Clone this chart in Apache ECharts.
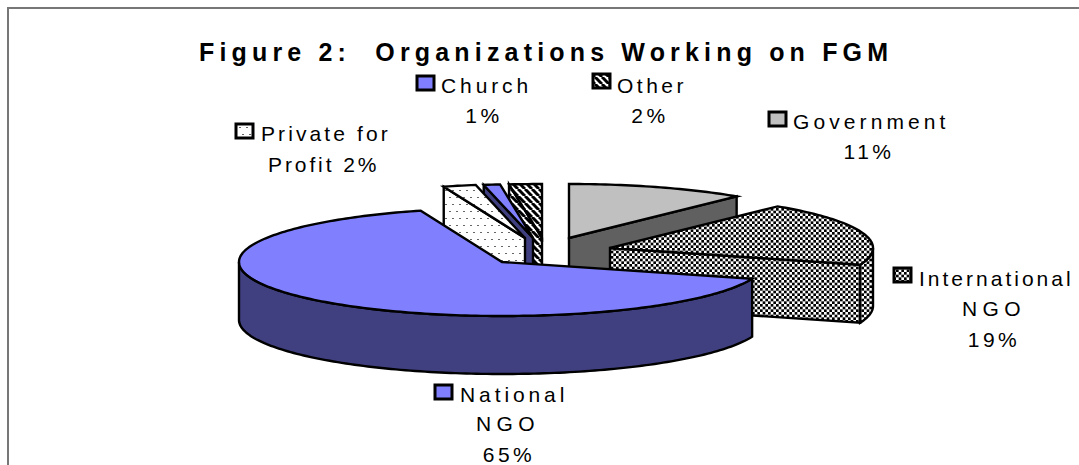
<!DOCTYPE html>
<html>
<head>
<meta charset="utf-8">
<style>
html,body{margin:0;padding:0;background:#fff;}
#c{width:1079px;height:465px;}
#c text{letter-spacing:3.5px;}
</style>
<script src="https://cdn.jsdelivr.net/npm/echarts@6/dist/echarts.min.js"></script>
</head>
<body>
<div id="c"></div>
<script>
// ---- data ----
var titleText = 'Figure 2:  Organizations Working on FGM';
var categories = ['Government', 'International NGO', 'National NGO', 'Private for Profit', 'Church', 'Other'];
var values = [11, 19, 65, 2, 1, 2];
var labelLines = [
  ['Government', '11%'],
  ['International', 'NGO', '19%'],
  ['National', 'NGO', '65%'],
  ['Private for', 'Profit 2%'],
  ['Church', '1%'],
  ['Other', '2%']
];

// ---- layout and styling (pixels), separate from values ----
var RX = 263, RY = 54, DEPTH = 58;
var apex = [[569,238],[610,248],[502,262],[525,238],[533,238],[542,238]];
var drawOrder = [5,4,3,0,1,2];
var keyBox = [[769,112],[894,268],[435,385],[236,124],[417,76],[593,74]];
var KEY_W = 17, KEY_H = 14;
var labelAnchor = [
  [[793,121,'left'],[869,151,'center']],
  [[919,278,'left'],[994,308,'center'],[994,339,'center']],
  [[460,394,'left'],[508,423,'center'],[509,454,'center']],
  [[261,133,'left'],[268,164,'left']],
  [[441,85,'left'],[484,115,'center']],
  [[617,85,'left'],[650,115,'center']]
];
var trackingPx = {
  'Government':4.1,'International':3.0,'National':3.9,'Private for':3.1,
  'Profit 2%':2.9,'Church':3.9,'Other':3.5,'NGO':5.4
};
trackingPx[titleText] = 5.17;

function tile(w,h,draw){
  var c=document.createElement('canvas');c.width=w;c.height=h;
  var x=c.getContext('2d');x.fillStyle='#fff';x.fillRect(0,0,w,h);draw(x);
  return {image:c,repeat:'repeat'};
}
var checker = tile(16,16,function(x){
  x.fillStyle='#000';var s=16/6;
  for(var i=0;i<6;i++)for(var j=0;j<6;j++) if((i+j)%2) x.fillRect(i*s,j*s,s,s);
});
var dots = tile(14,14,function(x){
  x.fillStyle='#666';
  x.fillRect(1,1,2,1);x.fillRect(8,1,2,1);x.fillRect(4,8,2,1);x.fillRect(11,8,2,1);
});
var stripes = tile(7,7,function(x){
  x.strokeStyle='#000';x.lineWidth=3;
  for(var k=-7;k<=14;k+=7){x.beginPath();x.moveTo(k,0);x.lineTo(k+7,7);x.stroke();}
});
var topFill = ['#c0c0c0',checker,'#8080ff',dots,'#8080ff',stripes];
var wallFill = ['#606060',checker,'#404080',dots,'#404080',stripes];
// which radial wall faces the viewer
var cutWall = ['end','end',null,'start','start','start'];

var starts = [], acc = 0, total = values.reduce(function(a,b){return a+b;},0);
values.forEach(function(v){starts.push(acc/total*Math.PI*2);acc+=v;});

function pt(i,a,dy){
  return [apex[i][0]+RX*Math.sin(a), apex[i][1]-RY*Math.cos(a)+(dy||0)];
}
function arc(i,a0,a1,dy){
  var n=Math.max(2,Math.ceil(Math.abs(a1-a0)/0.02)),out=[];
  for(var k=0;k<=n;k++) out.push(pt(i,a0+(a1-a0)*k/n,dy));
  return out;
}
var edge={stroke:'#000',lineWidth:2.4,lineJoin:'miter',miterLimit:6};
function poly(points,fill){
  return {type:'polygon',shape:{points:points},style:Object.assign({fill:fill},edge)};
}

function renderItem(params,api){
  var i=api.value(1);
  var a0=starts[i], a1=a0+api.value(0)/total*Math.PI*2, kids=[];
  var ax=apex[i], base=[ax[0],ax[1]+DEPTH];
  if(cutWall[i]){
    var a=cutWall[i]==='end'?a1:a0, c=pt(i,a), d=pt(i,a,DEPTH);
    kids.push(poly([ax,c,d,base],wallFill[i]));
  }
  var w0=Math.max(a0,Math.PI/2), w1=Math.min(a1,Math.PI*1.5);
  if(w1>w0){
    kids.push(poly(arc(i,w0,w1,0).concat(arc(i,w1,w0,DEPTH)),wallFill[i]));
  }
  kids.push(poly([ax].concat(arc(i,a0,a1,0)),topFill[i]));
  kids.push({type:'rect',shape:{x:keyBox[i][0],y:keyBox[i][1],width:KEY_W,height:KEY_H},
    style:{fill:topFill[i],stroke:'#000',lineWidth:3}});
  labelLines[i].forEach(function(t,k){
    var p=labelAnchor[i][k];
    kids.push({type:'text',x:p[0],y:p[1],style:{text:t,fontFamily:'Liberation Sans',fontSize:21,fill:'#000',align:p[2],verticalAlign:'middle'}});
  });
  return {type:'group',children:kids};
}

var chart = echarts.init(document.getElementById('c'),null,{renderer:'svg'});
function applyTracking(){
  document.querySelectorAll('#c text').forEach(function(t){
    var s=trackingPx[t.textContent];
    if(s) t.style.letterSpacing=s+'px';
  });
}
chart.on('finished',applyTracking);
chart.setOption({
  animation:false,
  backgroundColor:'#fff',
  title:{text:titleText,left:199,top:39,padding:0,textStyle:{fontFamily:'Liberation Sans',fontSize:25,fontWeight:'bold',color:'#000'}},
  graphic:[
    {type:'polyline',shape:{points:[[8,465],[8,8],[1079,8]]},style:{fill:null,stroke:'#777',lineWidth:2}}
  ],
  series:[{
    type:'custom',
    coordinateSystem:'none',
    renderItem:renderItem,
    silent:true,
    data:drawOrder.map(function(i){return {name:categories[i],value:[values[i],i]};})
  }]
});
applyTracking();
</script>
</body>
</html>
